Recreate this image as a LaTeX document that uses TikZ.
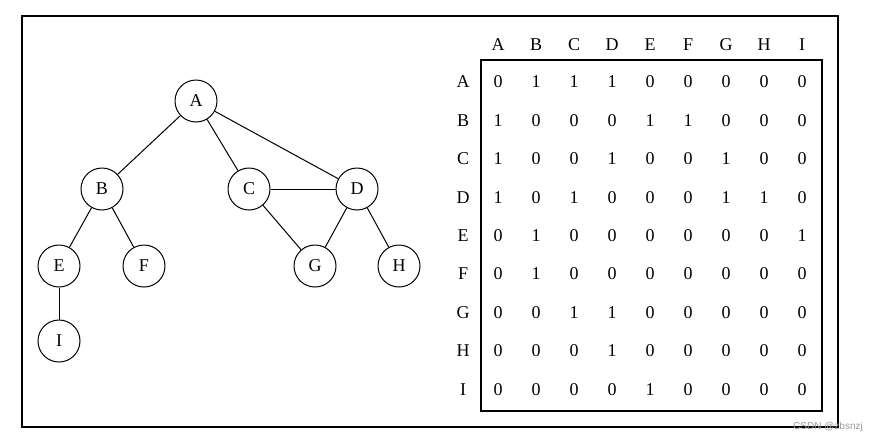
\documentclass[tikz,border=0pt]{standalone}
\usepackage{fontspec}
\setmainfont{Liberation Serif}
\newfontfamily\wmfont{Liberation Sans}
\begin{document}
\begin{tikzpicture}[x=1pt,y=-1pt,
  vtx/.style={draw,circle,line width=1pt,minimum size=42pt,inner sep=0pt,font=\fontsize{18}{21}\selectfont},
  edge/.style={line width=1pt},
  lbl/.style={inner sep=0pt,font=\fontsize{18}{21}\selectfont},
  frame/.style={line width=1.5pt}]
\useasboundingbox (0,0) rectangle (882,442);
\draw[frame] (22,16) rectangle (838,427);
% graph
\node[vtx] (A) at (196,101) {A};
\node[vtx] (B) at (102,189) {B};
\node[vtx] (C) at (249,189) {C};
\node[vtx] (D) at (357,189) {D};
\node[vtx] (E) at (59,266) {E};
\node[vtx] (F) at (144,266) {F};
\node[vtx] (G) at (315,266) {G};
\node[vtx] (H) at (399,266) {H};
\node[vtx] (I) at (59,341) {I};
\draw[edge] (A) -- (B);
\draw[edge] (A) -- (C);
\draw[edge] (A) -- (D);
\draw[edge] (B) -- (E);
\draw[edge] (B) -- (F);
\draw[edge] (C) -- (D);
\draw[edge] (C) -- (G);
\draw[edge] (D) -- (G);
\draw[edge] (D) -- (H);
\draw[edge] (E) -- (I);
% matrix
\draw[line width=1.3pt] (481,60) rectangle (822,411);
\foreach \n [count=\i from 0] in {A,B,C,D,E,F,G,H,I}{
  \node[lbl] (col\n) at (498+38*\i,45) {\n};
  \node[lbl] (row\n) at (463,82+38.4*\i) {\n};
}
\foreach \row [count=\r from 0] in {
  {0,1,1,1,0,0,0,0,0},
  {1,0,0,0,1,1,0,0,0},
  {1,0,0,1,0,0,1,0,0},
  {1,0,1,0,0,0,1,1,0},
  {0,1,0,0,0,0,0,0,1},
  {0,1,0,0,0,0,0,0,0},
  {0,0,1,1,0,0,0,0,0},
  {0,0,0,1,0,0,0,0,0},
  {0,0,0,0,1,0,0,0,0}}{
  \foreach \v [count=\c from 0] in \row {
    \node[lbl] (m\r-\c) at (498+38*\c,82+38.4*\r) {\v};
  }
}
\node[inner sep=0pt,anchor=base west,text=black!40,font=\wmfont\fontsize{10}{12}\selectfont] (wm) at (793,429) {CSDN @zbsnzj};
\end{tikzpicture}
\end{document}
